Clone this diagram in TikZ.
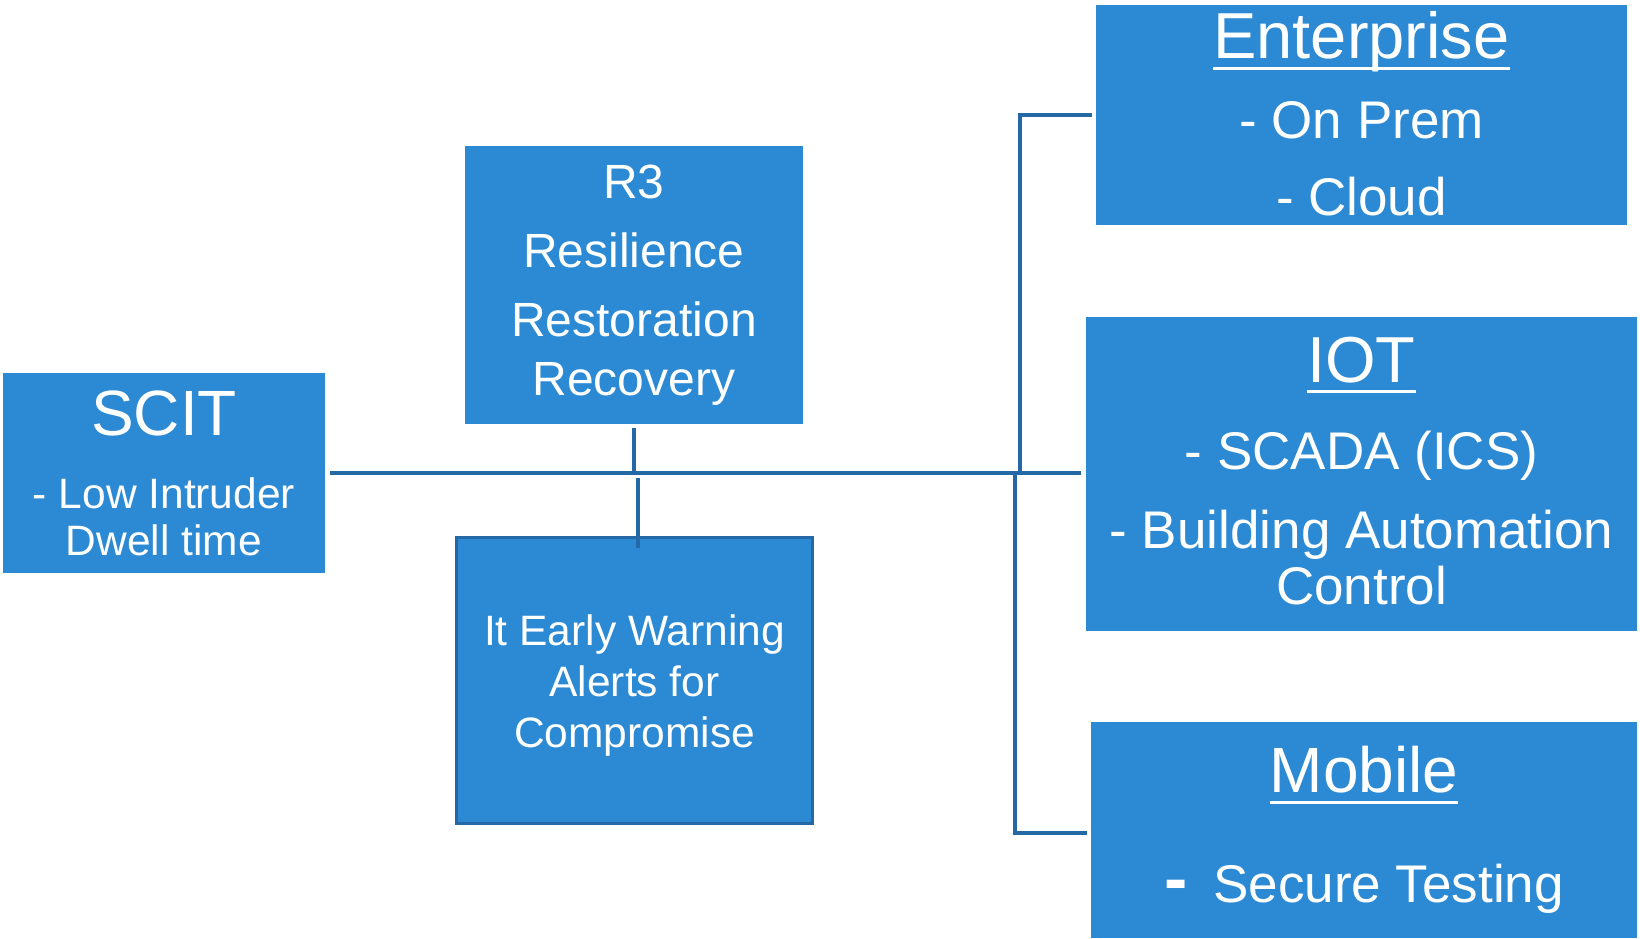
\documentclass[tikz,border=0pt]{standalone}
\usepackage{fontspec}
\setmainfont{Liberation Sans}
\usepackage{tikz}
\usetikzlibrary{positioning}
\definecolor{scblue}{RGB}{44,138,212}
\definecolor{scdark}{RGB}{36,104,166}
\newcommand{\undl}[1]{\setbox0\hbox{#1}\rlap{\rule[-11pt]{\wd0}{3pt}}\box0}

\begin{document}
\begin{tikzpicture}[
    x=1pt, y=-1pt,
    every node/.style={text=white, align=center, inner sep=0pt},
    box/.style={rectangle, fill=scblue},
    alertbox/.style={rectangle, fill=scblue, draw=scdark, line width=3.5pt},
    link/.style={draw=scdark, line width=3.5pt}
]
\useasboundingbox (0,0) rectangle (1640,938);

% Left node
\node[box, minimum width=322pt, minimum height=200pt, font=\fontsize{42.5}{47}\selectfont] (scit) at (164,473)
  {{\fontsize{64}{64}\selectfont SCIT}\\[26pt]- Low Intruder\\Dwell time};

% Middle nodes
\node[box, minimum width=338pt, minimum height=278pt, font=\fontsize{48}{69}\selectfont] (r3) at (634,285)
  {R3\\Resilience\\Restoration\\[-10pt]Recovery};
\node[alertbox, minimum width=356pt, minimum height=286pt, font=\fontsize{42.5}{51}\selectfont] (alert) at (634.5,680.5)
  {\rule{0pt}{41.6pt}It Early Warning\\Alerts for\\Compromise};

% Right nodes
\node[box, minimum width=531pt, minimum height=220pt, font=\fontsize{53}{77}\selectfont] (ent) at (1361.5,115)
  {{\fontsize{65}{65}\selectfont\undl{Enterprise}}\\[3pt]- On Prem\\- Cloud\rule[-3pt]{0pt}{0pt}};
\node[box, minimum width=551pt, minimum height=314pt, font=\fontsize{53}{79}\selectfont] (iot) at (1361.5,474)
  {{\fontsize{65}{65}\selectfont\undl{IOT}}\\[8pt]- SCADA (ICS)\\- Building Automation\\[-23pt]Control\rule[-7pt]{0pt}{0pt}};
\node[box, minimum width=546pt, minimum height=216pt, font=\fontsize{53}{110}\selectfont] (mobile) at (1364,830)
  {{\fontsize{64}{64}\selectfont\undl{Mobile}}\\{\fontsize{70}{70}\selectfont\bfseries -}\hspace{26pt}Secure Testing};

% Lines
\coordinate (jtop) at (1020,473);
\coordinate (jbot) at (1015,473);
\coordinate (atap) at ([xshift=3.5pt,yshift=-12pt]alert.north);
\draw[link, shorten <=5pt, shorten >=5pt] (scit.east) -- (scit.east -| iot.west);
\draw[link, shorten <=4pt] (r3.south) -- (r3.south |- scit.east);
\draw[link, shorten >=5pt] (atap) -- (atap |- scit.east);
\draw[link, shorten <=4pt] (ent.west) -| (jtop);
\draw[link, shorten <=4pt] ([yshift=-3pt]mobile.west) -| (jbot);

\end{tikzpicture}
\end{document}
